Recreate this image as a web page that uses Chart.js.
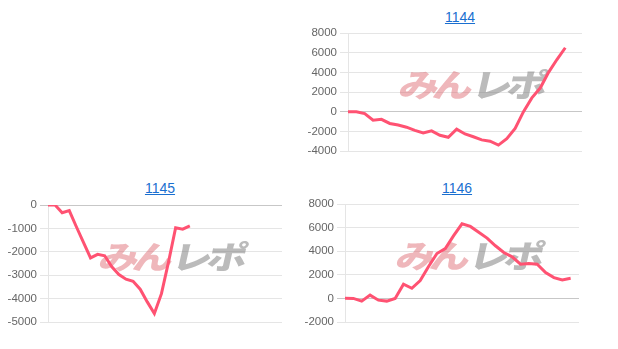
<!DOCTYPE html>
<html>
<head>
<meta charset="utf-8">
<script src="https://cdn.jsdelivr.net/npm/chart.js@4"></script>
<style>
  body { margin: 0; background: #fff; width: 618px; height: 349px; position: relative; overflow: hidden; font-family: "Liberation Sans", Arial, sans-serif; }
  .title { position: absolute; width: 100px; margin-left: -50px; text-align: center; font-size: 14px; line-height: 16px; }
  .title a { color: #1a6fd0; text-decoration: underline; }
  canvas { position: absolute; }
</style>
</head>
<body>
<div class="title" style="left:460px; top:9px;"><a href="#">1144</a></div>
<div class="title" style="left:160px; top:180px;"><a href="#">1145</a></div>
<div class="title" style="left:457px; top:180px;"><a href="#">1146</a></div>

<canvas id="chart1144" width="282" height="138" style="left:305px; top:23px;"></canvas>
<canvas id="chart1145" width="282" height="137" style="left:5px; top:195px;"></canvas>
<canvas id="chart1146" width="282" height="138" style="left:302px; top:194px;"></canvas>

<script>
// x categories (ticks are hidden on the page)
const labels1144 = Array.from({ length: 29 }, (_, i) => String(i + 1));
const labels1145 = Array.from({ length: 34 }, (_, i) => String(i + 1));
const labels1146 = Array.from({ length: 29 }, (_, i) => String(i + 1));

// series values
const values1144 = [0, 0, -200, -870, -780, -1200, -1360, -1580, -1900, -2170, -1950, -2400, -2600,
  -1780, -2270, -2550, -2870, -3000, -3400, -2750, -1700, 0, 1400, 2400, 4000, 5300, 6500];
const values1145 = [0, 0, -330, -240, -930, -1600, -2260, -2110, -2170, -2640, -2970, -3170, -3260,
  -3600, -4140, -4640, -3790, -2430, -970, -1030, -890];
const values1146 = [20, 0, -230, 280, -150, -230, 0, 1200, 860, 1510, 2700, 3800, 4220, 5320, 6320,
  6100, 5600, 5110, 4460, 3890, 3520, 2900, 2950, 2900, 2190, 1760, 1560, 1700];

// y axis ranges
const yRange1144 = { min: -4000, max: 8000, step: 2000 };
const yRange1145 = { min: -5000, max: 0, step: 1000 };
const yRange1146 = { min: -2000, max: 8000, step: 2000 };

const watermarkChars = ["み", "ん", "レ", "ポ"];

// draws the site logo text behind the line
const watermarkPlugin = {
  id: 'watermark',
  beforeDatasetsDraw(chart) {
    const area = chart.chartArea;
    const ctx = chart.ctx;
    const cx = (area.left + area.right) / 2 + 9;
    const cy = (area.top + area.bottom) / 2 - 7;
    const offsets = [-54, -20, 19, 54];
    ctx.save();
    ctx.translate(cx, cy);
    ctx.transform(1, 0, -0.22, 1, 0, 0);
    ctx.font = '900 32px "Noto Sans CJK JP"';
    ctx.textBaseline = 'middle';
    ctx.textAlign = 'center';
    watermarkChars.forEach((ch, i) => {
      ctx.save();
      ctx.translate(offsets[i], 0);
      ctx.scale(1.25, 1);
      ctx.fillStyle = i < 2 ? 'rgba(220,95,105,0.45)' : 'rgba(120,120,120,0.5)';
      ctx.fillText(ch, 0, 0);
      ctx.restore();
    });
    ctx.restore();
  }
};

function makeChart(id, labels, values, range, axisWidth) {
  return new Chart(document.getElementById(id).getContext('2d'), {
    type: 'line',
    data: {
      labels: labels,
      datasets: [{
        data: values,
        borderColor: 'rgb(255,82,114)',
        backgroundColor: 'rgb(255,82,114)',
        borderWidth: 3,
        pointRadius: 0,
        tension: 0,
        fill: false
      }]
    },
    options: {
      responsive: false,
      animation: false,
      layout: { padding: { top: 10, bottom: 10, left: 0, right: 5 } },
      plugins: {
        legend: { display: false },
        tooltip: { enabled: false }
      },
      scales: {
        x: { display: false },
        y: {
          min: range.min,
          max: range.max,
          afterFit: function (scale) { scale.width = axisWidth; },
          ticks: {
            stepSize: range.step,
            color: '#666',
            font: { family: '"Liberation Sans", Arial, sans-serif', size: 11.5 },
            callback: value => String(value)
          },
          grid: {
            color: ctx => ctx.tick && ctx.tick.value === 0 ? 'rgba(0,0,0,0.22)' : 'rgba(0,0,0,0.1)'
          },
          border: { color: 'rgba(0,0,0,0.1)' }
        }
      }
    },
    plugins: [watermarkPlugin]
  });
}

document.addEventListener("DOMContentLoaded", function () {
  makeChart('chart1144', labels1144, values1144, yRange1144, 43);
  makeChart('chart1145', labels1145, values1145, yRange1145, 43);
  makeChart('chart1146', labels1146, values1146, yRange1146, 43);
});
</script>
</body>
</html>
